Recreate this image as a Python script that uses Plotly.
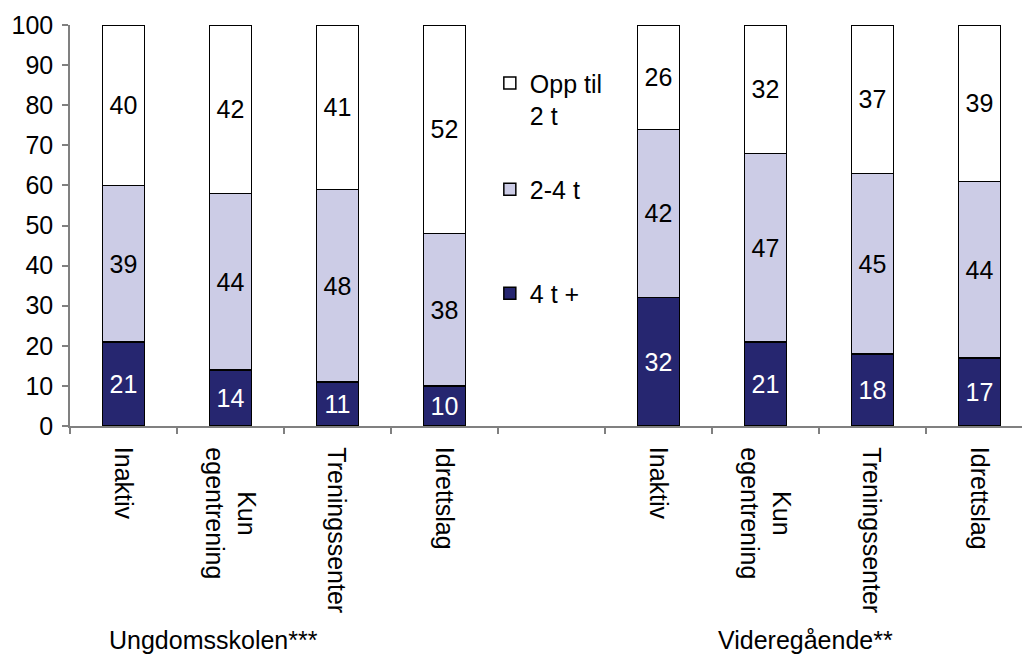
import plotly.graph_objects as go

# categories per school level (same four groups in both)
categories = ["Inaktiv", "Kun<br>egentrening", "Treningssenter", "Idrettslag"]
groups = ["Ungdomsskolen***", "Videregående**"]

# Ungdomsskolen
u_4t_plus = [21, 14, 11, 10]
u_2_4t = [39, 44, 48, 38]
u_opp_2t = [40, 42, 41, 52]

# Videregående
v_4t_plus = [32, 21, 18, 17]
v_2_4t = [42, 47, 45, 44]
v_opp_2t = [26, 32, 37, 39]

series_names = ["4 t +", "2-4 t", "Opp til<br>2 t"]
ytick_vals = list(range(0, 101, 10))

FONT = "Liberation Sans, Arial, sans-serif"
FS = 25
DARK = "#262670"
LIGHT = "#CCCCE6"
AXIS_GREY = "#808080"

# slot positions: 4 bars, an empty slot (legend), 4 bars
x_pos = [0, 1, 2, 3, 5, 6, 7, 8]

series = [
    (series_names[0], u_4t_plus + v_4t_plus, DARK, "white", "legend3"),
    (series_names[1], u_2_4t + v_2_4t, LIGHT, "black", "legend2"),
    (series_names[2], u_opp_2t + v_opp_2t, "white", "black", "legend"),
]

fig = go.Figure()
for name, vals, color, txtcolor, leg in series:
    fig.add_trace(go.Bar(
        x=x_pos,
        y=vals,
        name=name,
        width=0.39,
        marker=dict(color=color, line=dict(color="black", width=1.5)),
        text=[str(v) for v in vals],
        textposition="inside",
        insidetextanchor="middle",
        textangle=0,
        insidetextfont=dict(family=FONT, size=FS, color=txtcolor),
        legend=leg,
        hoverinfo="skip",
    ))

# rotated category labels under each bar
for xi, cat in zip(x_pos, categories + categories):
    fig.add_annotation(
        x=xi, y=-0.047, xref="x", yref="paper",
        text=cat, textangle=90, showarrow=False,
        xanchor="center", yanchor="top", align="center",
        font=dict(family=FONT, size=FS, color="black"),
    )

# group labels
for gx, g in zip([0.84, 6.37], groups):
    fig.add_annotation(
        x=gx, y=-0.534, xref="x", yref="paper",
        text=g, showarrow=False, xanchor="center", yanchor="middle",
        font=dict(family=FONT, size=FS, color="black"),
    )

legend_style = dict(
    font=dict(family=FONT, size=FS, color="black"),
    bgcolor="rgba(0,0,0,0)",
    xanchor="left", yanchor="top",
    valign="top",
    itemclick=False,
)
fig.update_layout(
    width=1022,
    height=661,
    margin=dict(l=70, r=0, t=25, b=235),
    paper_bgcolor="white",
    plot_bgcolor="white",
    barmode="stack",
    showlegend=True,
    font=dict(family=FONT, size=FS, color="black"),
    legend=dict(x=0.441, y=0.912, **legend_style),
    legend2=dict(x=0.441, y=0.647, **legend_style),
    legend3=dict(x=0.441, y=0.388, **legend_style),
    xaxis=dict(
        range=[-0.5, 8.397],
        showline=True, linecolor=AXIS_GREY, linewidth=1.5,
        showgrid=False, zeroline=False,
        showticklabels=False, ticks="",
        minor=dict(tickmode="linear", tick0=0.5, dtick=1, ticks="outside",
                   ticklen=6, tickcolor=AXIS_GREY, tickwidth=1.5, showgrid=False),
    ),
    yaxis=dict(
        range=[0, 100],
        tickvals=ytick_vals,
        showline=True, linecolor=AXIS_GREY, linewidth=1.5,
        showgrid=False, zeroline=False,
        ticks="outside", ticklen=6, tickcolor=AXIS_GREY, tickwidth=1.5,
        ticklabelstandoff=4,
        tickfont=dict(family=FONT, size=FS, color="black"),
    ),
)

# the page body has a default 8px margin; drop it so the figure fills the window
fig.write_html("out.html", config={"displayModeBar": False},
               post_script="document.body.style.margin='0';")
